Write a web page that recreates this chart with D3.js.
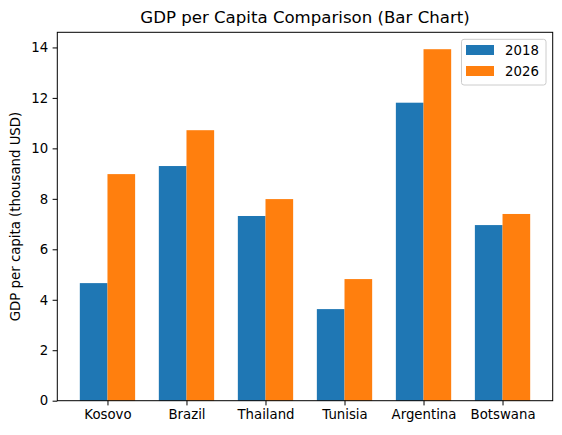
<!DOCTYPE html>
<html lang="en">
<head>
<meta charset="utf-8">
<title>GDP per Capita Comparison</title>
<script src="https://d3js.org/d3.v7.min.js"></script>
<style>
  body { margin: 0; background: #fff; }
  text { font-family: "DejaVu Sans", sans-serif; fill: #000; }
</style>
</head>
<body>
<div id="chart"></div>
<script>
// data
var countries = ["Kosovo", "Brazil", "Thailand", "Tunisia", "Argentina", "Botswana"];
var years = ["2018", "2026"];
var gdp2018 = [4.66, 9.30, 7.32, 3.63, 11.81, 6.96];
var gdp2026 = [8.98, 10.72, 7.99, 4.82, 13.93, 7.40];
var yTicks = [0, 2, 4, 6, 8, 10, 12, 14];
var colors = ["#1f77b4", "#ff7f0e"];

var W = 562, H = 435;
var plotL = 57.3, plotR = 552.7, plotT = 32.3, plotB = 400.7;
var barW = 0.35;

var svg = d3.select("#chart").append("svg")
  .attr("width", W).attr("height", H);

// x is a continuous index scale, like matplotlib's bar positions
var x = d3.scaleLinear()
  .domain([-0.635, countries.length - 1 + 0.635])
  .range([plotL, plotR]);

var y = d3.scaleLinear()
  .domain([0, 14.6])
  .range([plotB, plotT]);

var series = [gdp2018, gdp2026];

// bars
series.forEach(function(vals, s) {
  svg.append("g")
    .selectAll("rect")
    .data(vals)
    .enter()
    .append("rect")
      .attr("x", function(d, i) { return x(i - barW + s * barW); })
      .attr("y", function(d) { return y(d); })
      .attr("width", x(barW) - x(0))
      .attr("height", function(d) { return y(0) - y(d); })
      .attr("fill", colors[s]);
});

// axes
var xAxis = d3.axisBottom(x)
  .tickValues(d3.range(countries.length))
  .tickFormat(function(i) { return countries[i]; })
  .tickSize(4.7).tickPadding(4.5).tickSizeOuter(0);

var gx = svg.append("g")
  .attr("transform", "translate(0," + plotB + ")")
  .call(xAxis);
gx.select(".domain").remove();
gx.selectAll("text").style("font-size", "13.3px").attr("font-family", null);

var yAxis = d3.axisLeft(y)
  .tickValues(yTicks)
  .tickSize(4.7).tickPadding(4.5).tickSizeOuter(0);

var gy = svg.append("g")
  .attr("transform", "translate(" + plotL + ",0)")
  .call(yAxis);
gy.select(".domain").remove();
gy.selectAll("text").style("font-size", "13.3px").attr("font-family", null);
svg.selectAll(".tick line").attr("stroke-width", 1);

// frame
svg.append("rect")
  .attr("x", plotL).attr("y", plotT)
  .attr("width", plotR - plotL).attr("height", plotB - plotT)
  .attr("fill", "none").attr("stroke", "#000").attr("stroke-width", 1);

// title
svg.append("text")
  .attr("x", (plotL + plotR) / 2).attr("y", plotT - 9)
  .attr("text-anchor", "middle")
  .style("font-size", "16.6px")
  .text("GDP per Capita Comparison (Bar Chart)");

// y label
svg.append("text")
  .attr("transform", "translate(20," + ((plotT + plotB) / 2) + ") rotate(-90)")
  .attr("text-anchor", "middle")
  .style("font-size", "13.3px")
  .text("GDP per capita (thousand USD)");

// legend
var lg = svg.append("g").attr("transform", "translate(461.5,39.3)");
lg.append("rect")
  .attr("width", 84.5).attr("height", 45.7)
  .attr("rx", 2.5)
  .attr("fill", "#fff").attr("fill-opacity", 0.8)
  .attr("stroke", "#ccc").attr("stroke-width", 1);

lg.selectAll("rect.key")
  .data(years)
  .enter()
  .append("rect")
    .attr("class", "key")
    .attr("x", 4.5)
    .attr("y", function(d, i) { return 5.7 + i * 21; })
    .attr("width", 28)
    .attr("height", 10)
    .attr("fill", function(d, i) { return colors[i]; });

lg.selectAll("text")
  .data(years)
  .enter()
  .append("text")
    .attr("x", 43.5)
    .attr("y", function(d, i) { return 15.5 + i * 21; })
    .style("font-size", "13.3px")
    .text(function(d) { return d; });
</script>
</body>
</html>
